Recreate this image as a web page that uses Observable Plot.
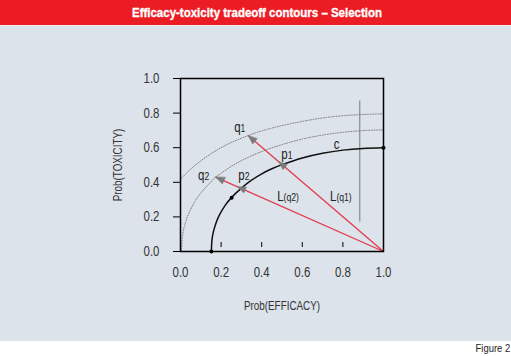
<!DOCTYPE html>
<html><head><meta charset="utf-8">
<script src="https://cdn.jsdelivr.net/npm/d3@7"></script>
<script src="https://cdn.jsdelivr.net/npm/@observablehq/plot@0.6"></script>
<style>
body{margin:0;background:#fff;}
#page{position:relative;width:511px;height:356px;overflow:hidden;font-family:"Liberation Sans",Arial,sans-serif;}
#title{position:absolute;left:0;top:0;width:511px;height:25px;}
#sep{position:absolute;left:0;top:25px;width:511px;height:1px;background:#eef1f4;}
#panel{position:absolute;left:0;top:26px;width:511px;height:315px;background:#dce3ea;}
#fig{position:absolute;right:1px;top:342px;font-size:11.5px;color:#222;white-space:nowrap;transform:scaleX(0.82);transform-origin:100% 0;}
</style></head>
<body>
<div id="page">
  <svg id="title" width="511" height="25" xmlns="http://www.w3.org/2000/svg">
    <rect x="0" y="0" width="511" height="25" fill="#ec1c24"></rect>
    <text x="132" y="17" text-anchor="start" fill="#fff" stroke="#fff" stroke-width="0.35" font-weight="bold" font-size="13.5" font-family="Liberation Sans, Arial, sans-serif" textLength="250" lengthAdjust="spacingAndGlyphs">Efficacy-toxicity tradeoff contours – Selection</text>
  </svg>
  <div id="sep"></div>
  <div id="panel"></div>
  <div id="fig">Figure 2</div>
</div>
<script>
// ---- data ----
const xTicks = [0.0, 0.2, 0.4, 0.6, 0.8, 1.0];
const yTicks = [0.0, 0.2, 0.4, 0.6, 0.8, 1.0];
const xTitle = "Prob(EFFICACY)";
const yTitle = "Prob(TOXICITY)";

// contour c (solid)
const cX = [0.152, 0.155, 0.16, 0.17, 0.19, 0.22, 0.25, 0.30, 0.35, 0.40, 0.45, 0.50, 0.60, 0.70, 0.80, 0.90, 1.00];
const cY = [0.000, 0.066, 0.103, 0.148, 0.207, 0.267, 0.310, 0.366, 0.412, 0.449, 0.478, 0.502, 0.541, 0.568, 0.586, 0.596, 0.600];
// contour through q1 (dotted)
const q1cX = [0.00, 0.05, 0.10, 0.15, 0.20, 0.25, 0.333, 0.40, 0.50, 0.60, 0.70, 0.80, 0.90, 1.00];
const q1cY = [0.418, 0.476, 0.524, 0.565, 0.600, 0.630, 0.670, 0.697, 0.728, 0.752, 0.772, 0.785, 0.792, 0.796];
// contour through q2 (dotted)
const q2cX = [0.005, 0.01, 0.02, 0.04, 0.07, 0.10, 0.15, 0.173, 0.20, 0.25, 0.30, 0.40, 0.50, 0.60, 0.70, 0.80, 0.90, 1.00];
const q2cY = [0.000, 0.091, 0.149, 0.218, 0.287, 0.338, 0.403, 0.430, 0.452, 0.492, 0.525, 0.578, 0.618, 0.650, 0.673, 0.689, 0.699, 0.703];

// ideal point and target points
const origin = {x: 1.0, y: 0.0};
const qNames = ["q1", "q2"];
const qX = [0.333, 0.173];
const qY = [0.670, 0.430];
const pNames = ["p1", "p2"];
const pX = [0.500, 0.300];
const pY = [0.502, 0.364];

// black points on c
const dotX = [0.152, 0.252, 1.0];
const dotY = [0.000, 0.310, 0.600];

// vertical reference line
const vlineX = [0.883];
const vlineY1 = [0.17];
const vlineY2 = [0.87];

// text labels
const labMain = ["q", "p", "q", "p", "L", "L", "c"];
const labSub  = ["1", "1", "2", "2", "(q2)", "(q1)", ""];
const labX = [0.296, 0.528, 0.118, 0.316, 0.508, 0.768, 0.783];
const labY = [0.715, 0.562, 0.437, 0.437, 0.318, 0.318, 0.618];

// ---- build ----
const W = 511, H = 315, mL = 180, mR = 128, mT = 52, mB = 90;
const kx = W - mL - mR, ky = H - mT - mB;

const rows = (xs, ys) => xs.map((x, i) => ({x, y: ys[i]}));
const cRows = rows(cX, cY), q1Rows = rows(q1cX, q1cY), q2Rows = rows(q2cX, q2cY);
const links = qX.map((x, i) => ({x1: origin.x, y1: origin.y, x2: x, y2: qY[i]}));
const angle = (x, y) => Math.atan2((x - origin.x) * kx, (y - origin.y) * ky) * 180 / Math.PI;
const heads = [
  ...qX.map((x, i) => ({x, y: qY[i], a: angle(x, qY[i]), kind: "q"})),
  ...pX.map((x, i) => ({x, y: pY[i], a: angle(qX[i], qY[i]), kind: "p"}))
];
const labels = labMain.map((t, i) => ({t, s: labSub[i], x: labX[i], y: labY[i]}));
const vlines = vlineX.map((x, i) => ({x, y1: vlineY1[i], y2: vlineY2[i]}));
const dots = rows(dotX, dotY);

const triangle = {
  draw(context, l, r) {
    context.moveTo(0, -l);
    context.lineTo(-r, 0);
    context.lineTo(r, 0);
    context.closePath();
  }
};

const font = '"Liberation Sans",Arial,sans-serif';

const chart = Plot.plot({
  width: W, height: H,
  marginLeft: mL, marginRight: mR, marginTop: mT, marginBottom: mB,
  style: {background: "transparent", fontFamily: font, color: "#222"},
  x: {domain: [0, 1]},
  y: {domain: [0, 1]},
  axis: null,
  marks: [
    Plot.axisY({ticks: yTicks, tickSize: 7, tickPadding: 14, tickFormat: d3.format(".1f"), fontSize: 14, label: null, stroke: "#000", color: "#333"}),
    Plot.axisX({ticks: xTicks, tickSize: 5, dy: -9, tickFormat: () => "", label: null, stroke: "#000"}),
    Plot.axisX({ticks: xTicks, tickSize: 0, tickPadding: 16, tickFormat: d3.format(".1f"), fontSize: 14, label: null, color: "#333"}),
    Plot.text([xTitle], {frameAnchor: "bottom", textAnchor: "middle", lineAnchor: "middle", dy: 55, text: d => d, fontSize: 12, fill: "#333"}),
    Plot.text([yTitle], {frameAnchor: "left", textAnchor: "middle", lineAnchor: "middle", dx: -62, rotate: -90, text: d => d, fontSize: 12, fill: "#333"}),
    Plot.ruleX(vlines, {x: "x", y1: "y1", y2: "y2", stroke: "#8a8a8a", strokeWidth: 1.2}),
    Plot.line(q1Rows, {x: "x", y: "y", curve: "catmull-rom", stroke: "#7d7d7d", strokeWidth: 1, strokeDasharray: "1 1.6"}),
    Plot.line(q2Rows, {x: "x", y: "y", curve: "catmull-rom", stroke: "#7d7d7d", strokeWidth: 1, strokeDasharray: "1 1.6"}),
    Plot.line(cRows, {x: "x", y: "y", curve: "catmull-rom", stroke: "#111", strokeWidth: 1.5}),
    Plot.link(links, {x1: "x1", y1: "y1", x2: "x2", y2: "y2", stroke: "#e23a4c", strokeWidth: 1.3}),
    Plot.vector(heads.filter(d => d.kind === "q"), {x: "x", y: "y", rotate: "a", length: 9, r: 3.5, anchor: "end", shape: triangle, fill: "#7a7a7a", stroke: "#7a7a7a", strokeWidth: 0.5}),
    Plot.vector(heads.filter(d => d.kind === "p"), {x: "x", y: "y", rotate: "a", length: 8, r: 3.2, anchor: "middle", shape: triangle, fill: "#7a7a7a", stroke: "#7a7a7a", strokeWidth: 0.5}),
    Plot.dot(dots, {x: "x", y: "y", r: 2, fill: "#000"}),
    Plot.text(labels, {x: "x", y: "y", text: "t", textAnchor: "end", fontSize: 14, fill: "#222"}),
    Plot.text(labels, {x: "x", y: "y", text: "s", textAnchor: "start", fontSize: 10.5, dy: 1, fill: "#222"}),
    Plot.frame({stroke: "#000", strokeWidth: 1.5})
  ]
});
document.getElementById("panel").appendChild(chart);
// emulate a narrow (condensed) face: compress each text horizontally,
// converting its anchor to "start" with an explicit offset
chart.querySelectorAll("text").forEach(t => {
  const L = t.getComputedTextLength();
  if (!(L > 0)) return;
  const anchor = getComputedStyle(t).textAnchor;
  const nl = L * 0.82;
  const off = anchor === "middle" ? -nl / 2 : anchor === "end" ? -nl : 0;
  t.setAttribute("textLength", nl.toFixed(2));
  t.setAttribute("lengthAdjust", "spacingAndGlyphs");
  t.setAttribute("text-anchor", "start");
  t.style.textAnchor = "start";
  t.setAttribute("dx", off.toFixed(2));
});
</script>
</body></html>
